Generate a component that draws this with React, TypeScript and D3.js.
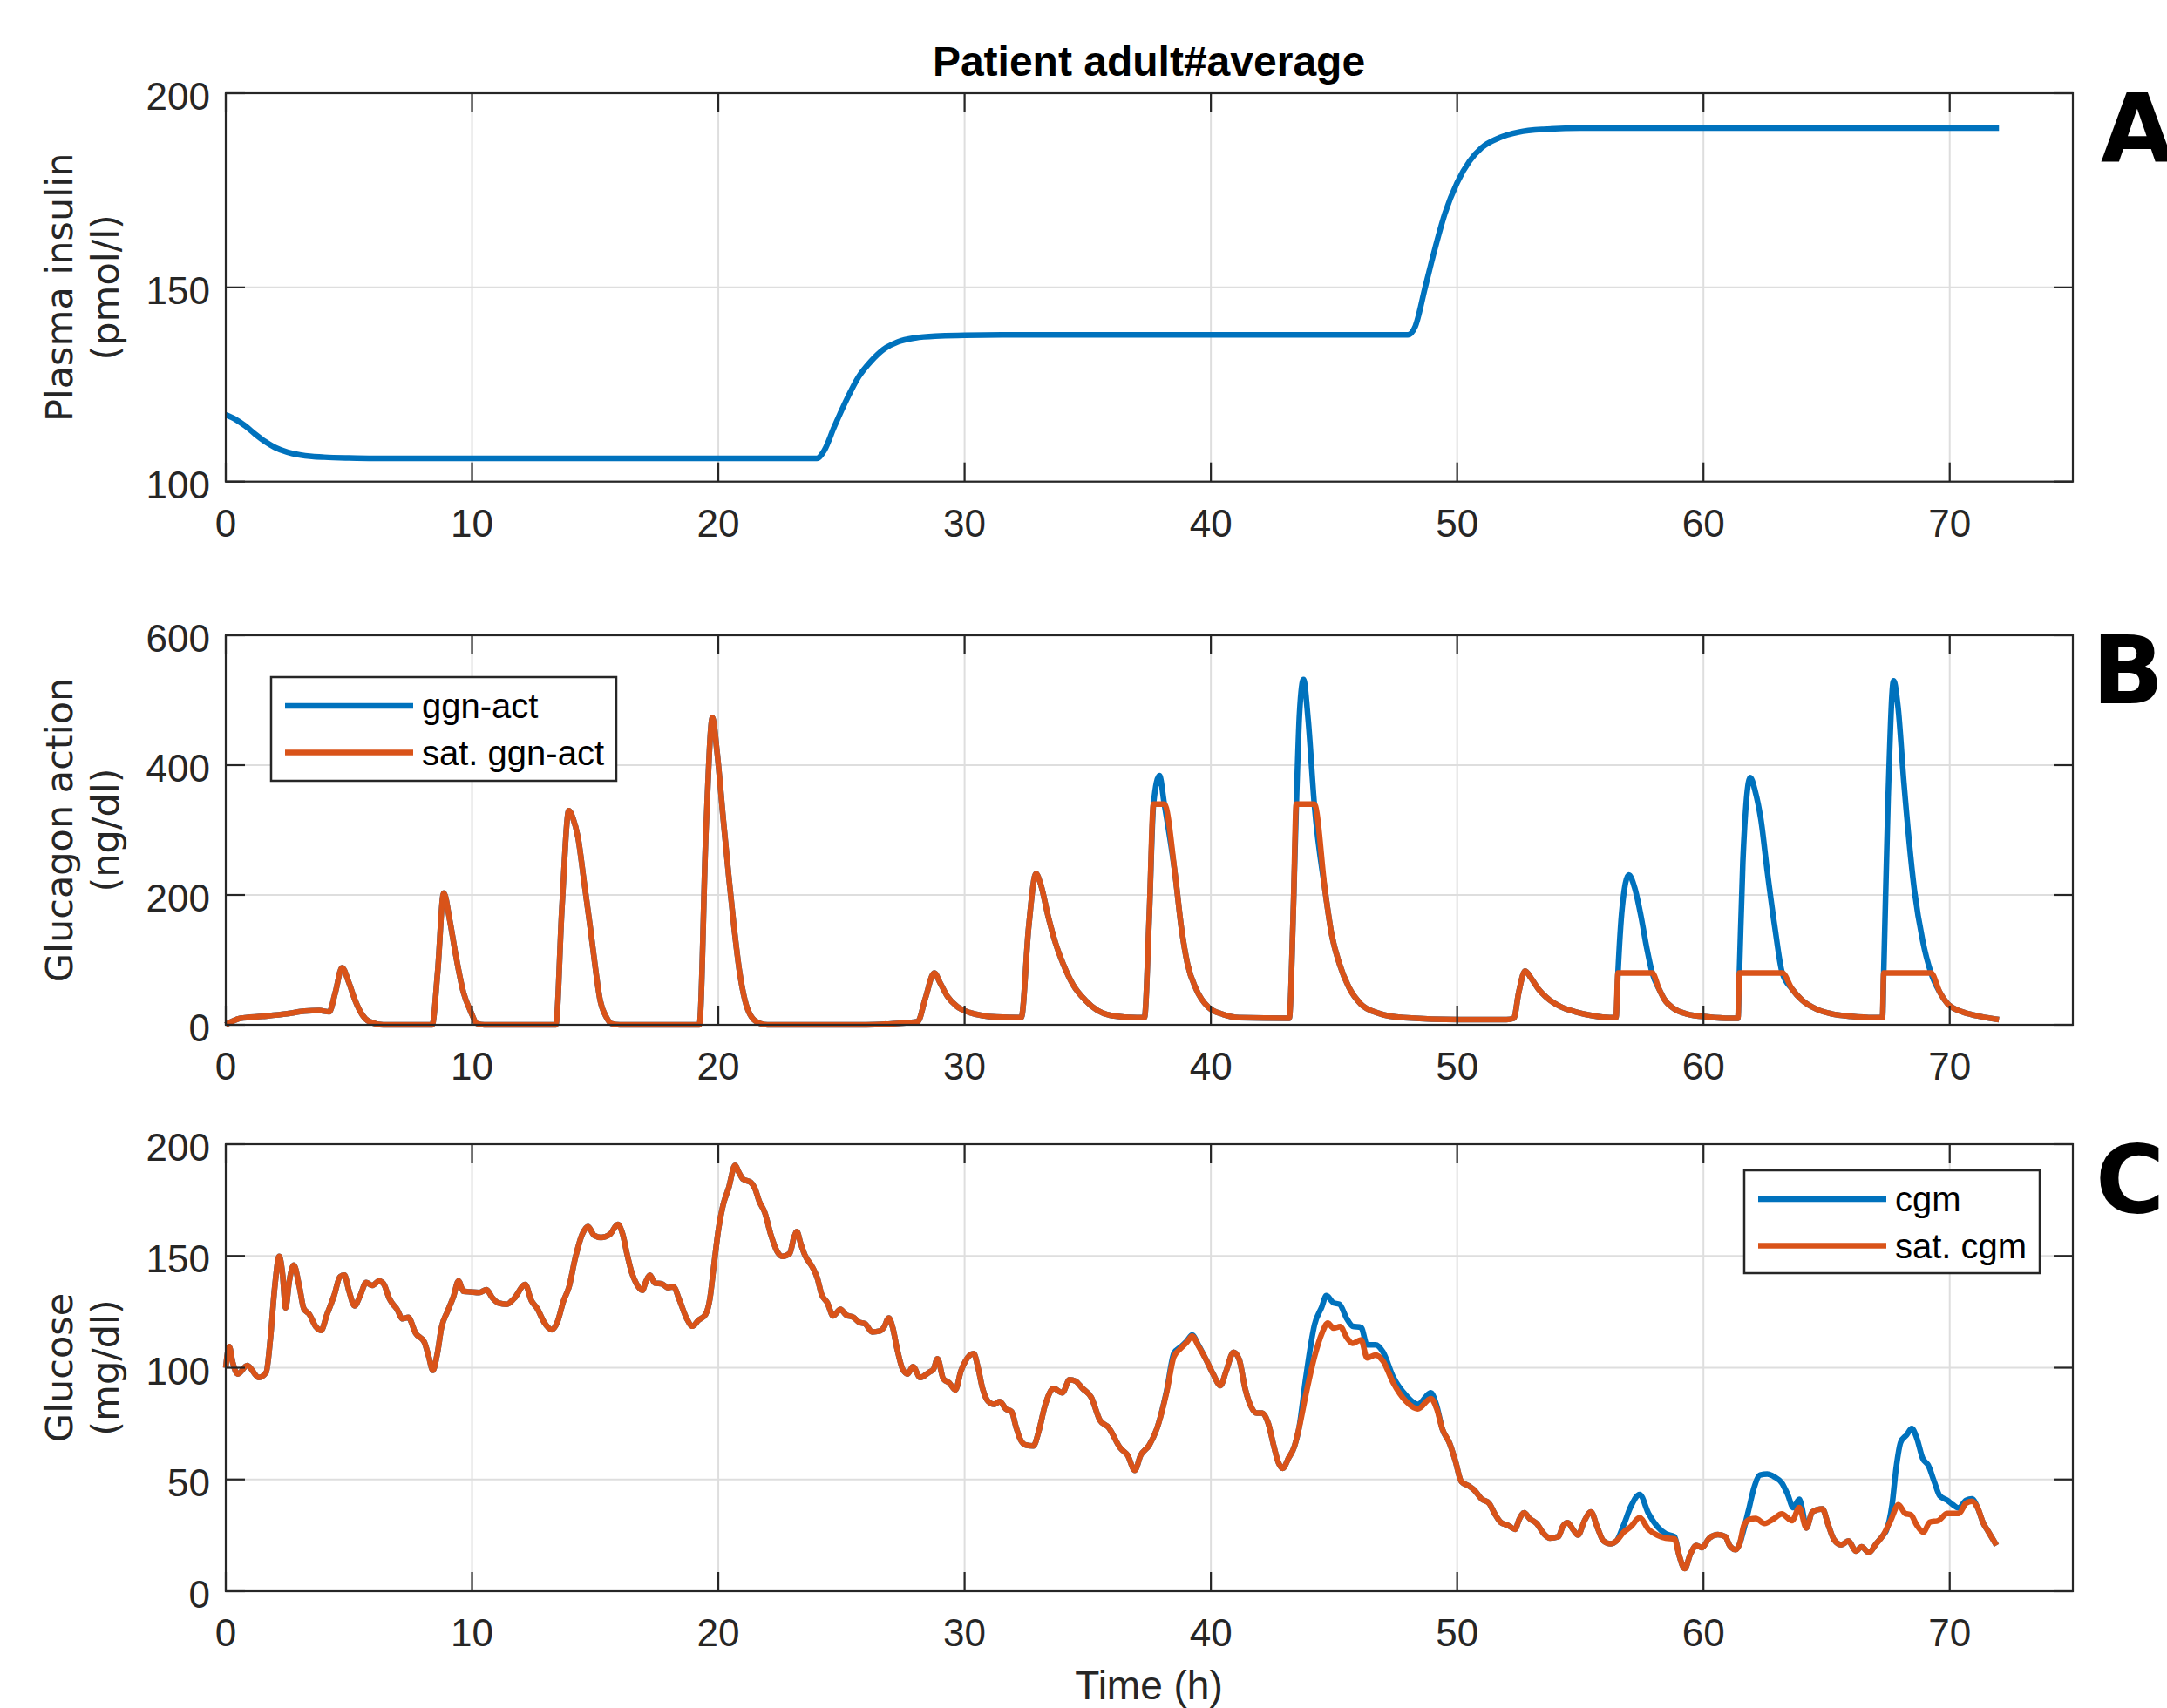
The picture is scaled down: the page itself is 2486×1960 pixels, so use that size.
import * as d3 from "d3";

// time axis ticks shared by all three panels
const X_TICKS = [0, 10, 20, 30, 40, 50, 60, 70];
const INSULIN_TICKS = [100, 150, 200];
const GLUCAGON_TICKS = [0, 200, 400, 600];
const GLUCOSE_TICKS = [0, 50, 100, 150, 200];

// [time (h), value] pairs
const insulin = [
  [0, 117.2], [0.4, 116], [0.8, 114.3], [1.2, 112.2], [1.6, 110.3], [2, 108.8], [2.5, 107.6], [3, 106.9],
  [3.5, 106.5], [4, 106.3], [5, 106.1], [6, 106], [24, 106], [24.3, 108], [24.7, 114], [25.2, 121],
  [25.7, 127], [26.2, 131], [26.7, 134], [27.3, 136], [28, 137], [29, 137.5], [30, 137.7], [32, 137.8],
  [48, 137.8], [48.3, 140], [48.7, 150], [49.1, 160], [49.5, 169], [50, 177], [50.5, 182.5], [51, 186],
  [51.7, 188.5], [52.5, 190], [53.5, 190.7], [55, 191], [72, 191],
];

const ggnAct = [
  [0, 0], [0.3, 6], [0.6, 10], [1.5, 13], [2.5, 17], [3.2, 21], [3.8, 22], [4.2, 20], [4.45, 50], [4.72, 88],
  [5, 65], [5.25, 38], [5.55, 15], [5.83, 5], [6.4, 0], [8.38, 0], [8.6, 80], [8.85, 203], [9.1, 160],
  [9.35, 105], [9.65, 50], [9.94, 21], [10.2, 2], [10.5, 0], [13.4, 0], [13.65, 180], [13.93, 330],
  [14.1, 318], [14.3, 289], [14.55, 220], [14.8, 150], [15, 90], [15.2, 38], [15.45, 12], [15.65, 2],
  [16, 0], [19.23, 0], [19.5, 300], [19.76, 473], [19.95, 420], [20.2, 317], [20.42, 230], [20.64, 150],
  [20.85, 85], [21.08, 38], [21.35, 12], [21.7, 2], [22, 0], [26, 0], [27, 1.5], [28.1, 5], [28.4, 40],
  [28.77, 80], [29, 65], [29.3, 44], [29.7, 28], [30.2, 19], [31.3, 12], [32.3, 11], [32.6, 150],
  [32.9, 233], [33.1, 215], [33.4, 166], [33.7, 125], [34, 94], [34.4, 62], [34.9, 38], [35.4, 22],
  [36, 14], [37, 11], [37.3, 11], [37.5, 170], [37.67, 340], [37.91, 384], [38.11, 340], [38.54, 234],
  [38.8, 150], [39.05, 94], [39.4, 55], [39.9, 27], [40.5, 16], [41.15, 11], [43.18, 10], [43.35, 180],
  [43.47, 340], [43.6, 480], [43.76, 532], [43.95, 470], [44.2, 340], [44.64, 206], [44.9, 140],
  [45.22, 94], [45.6, 58], [46.09, 32], [46.8, 18], [47.83, 11], [50.1, 8], [52, 8], [52.3, 10],
  [52.5, 50], [52.76, 83], [53, 72], [53.3, 55], [53.6, 43], [54.2, 28], [54.8, 20], [55.5, 14],
  [56.2, 11], [56.45, 11], [56.53, 80], [56.7, 180], [56.97, 231], [57.2, 212], [57.45, 170],
  [57.7, 118], [57.92, 80], [58.2, 55], [58.4, 40], [58.8, 25], [59.3, 17], [60.2, 12], [61.1, 10],
  [61.4, 10], [61.46, 80], [61.6, 250], [61.9, 381], [62.1, 360], [62.33, 317], [62.6, 234], [62.9, 150],
  [63.2, 80], [63.6, 55], [64, 38], [64.6, 24], [65.2, 17], [66, 13], [66.9, 11], [67.27, 11],
  [67.32, 80], [67.5, 350], [67.72, 530], [67.9, 490], [68.14, 373], [68.57, 206], [68.9, 130],
  [69.24, 80], [69.6, 50], [69.9, 33], [70.5, 20], [71.1, 14], [72, 8],
];

const satGgnAct = [
  [0, 0], [0.3, 6], [0.6, 10], [1.5, 13], [2.5, 17], [3.2, 21], [3.8, 22], [4.2, 20], [4.45, 50], [4.72, 88],
  [5, 65], [5.25, 38], [5.55, 15], [5.83, 5], [6.4, 0], [8.38, 0], [8.6, 80], [8.85, 203], [9.1, 160],
  [9.35, 105], [9.65, 50], [9.94, 21], [10.2, 2], [10.5, 0], [13.4, 0], [13.65, 180], [13.93, 330],
  [14.1, 318], [14.3, 289], [14.55, 220], [14.8, 150], [15, 90], [15.2, 38], [15.45, 12], [15.65, 2],
  [16, 0], [19.23, 0], [19.5, 300], [19.76, 473], [19.95, 420], [20.2, 317], [20.42, 230], [20.64, 150],
  [20.85, 85], [21.08, 38], [21.35, 12], [21.7, 2], [22, 0], [26, 0], [27, 1.5], [28.1, 5], [28.4, 40],
  [28.77, 80], [29, 65], [29.3, 44], [29.7, 28], [30.2, 19], [31.3, 12], [32.3, 11], [32.6, 150],
  [32.9, 233], [33.1, 215], [33.4, 166], [33.7, 125], [34, 94], [34.4, 62], [34.9, 38], [35.4, 22],
  [36, 14], [37, 11], [37.3, 11], [37.5, 170], [37.67, 340], [38.11, 340], [38.54, 234],
  [38.8, 150], [39.05, 94], [39.4, 55], [39.9, 27], [40.5, 16], [41.15, 11], [43.18, 10], [43.35, 180],
  [43.47, 340], [44.2, 340], [44.64, 206], [44.9, 140],
  [45.22, 94], [45.6, 58], [46.09, 32], [46.8, 18], [47.83, 11], [50.1, 8], [52, 8], [52.3, 10],
  [52.5, 50], [52.76, 83], [53, 72], [53.3, 55], [53.6, 43], [54.2, 28], [54.8, 20], [55.5, 14],
  [56.2, 11], [56.45, 11], [56.53, 80], [57.92, 80], [58.2, 55], [58.4, 40], [58.8, 25], [59.3, 17],
  [60.2, 12], [61.1, 10], [61.4, 10], [61.46, 80], [63.2, 80], [63.6, 55], [64, 38], [64.6, 24],
  [65.2, 17], [66, 13], [66.9, 11], [67.27, 11], [67.32, 80], [69.24, 80], [69.6, 50], [69.9, 33],
  [70.5, 20], [71.1, 14], [72, 8],
];

const satCgm = [
  [0, 100], [0.14, 109.5], [0.28, 102.4], [0.49, 97.2], [0.87, 101], [1.34, 95.6], [1.64, 97.9],
  [1.81, 112.8], [1.99, 136.2], [2.17, 149.8], [2.31, 141.4], [2.43, 126.8], [2.58, 138.8], [2.76, 145.9],
  [2.99, 136.2], [3.17, 126.4], [3.4, 123.8], [3.64, 118.6], [3.87, 116.7], [4.11, 123.8], [4.4, 132.3],
  [4.64, 140.7], [4.82, 141.4], [4.99, 134.9], [5.23, 127.7], [5.46, 132.3], [5.7, 138.1], [5.94, 136.8],
  [6.23, 138.8], [6.41, 137.5], [6.64, 131], [6.76, 128.8], [6.94, 126.4], [7.18, 121.9], [7.41, 122.5],
  [7.71, 115.4], [8.06, 111.5], [8.24, 105], [8.41, 98.8], [8.59, 106.3], [8.76, 118], [9, 125.1],
  [9.24, 131.6], [9.45, 138.8], [9.65, 134.2], [9.94, 133.9], [10.29, 133.6], [10.59, 134.9],
  [10.82, 131.3], [11.06, 129], [11.41, 128.4], [11.71, 131], [12.16, 137.2], [12.41, 130], [12.65, 126.4],
  [12.95, 119.9], [13.24, 117], [13.47, 120.6], [13.71, 129.7], [13.94, 136.2], [14.18, 148.5],
  [14.47, 159.6], [14.71, 163.2], [14.95, 159.3], [15.24, 158.3], [15.59, 159.6], [15.92, 164.1],
  [16.12, 159.6], [16.3, 150.5], [16.48, 142.7], [16.65, 138.1], [16.91, 134.6], [17.07, 138.8],
  [17.22, 141.4], [17.42, 137.9], [17.71, 137.5], [17.95, 135.8], [18.18, 136.2], [18.42, 130.3],
  [18.72, 121.9], [18.95, 118.6], [19.19, 121.2], [19.48, 123.8], [19.66, 131], [19.83, 146.6],
  [20.01, 162.2], [20.19, 172.6], [20.42, 180.4], [20.68, 190.5], [20.83, 187.5], [21.01, 184.3],
  [21.31, 183], [21.48, 180.4], [21.66, 174.5], [21.89, 169.3], [22.13, 159.6], [22.37, 152.4],
  [22.6, 149.8], [22.9, 151.1], [23.07, 158.3], [23.19, 160.9], [23.34, 155.7], [23.51, 150.5],
  [23.84, 144.6], [24.02, 140.1], [24.19, 132.9], [24.43, 129], [24.66, 123.2], [24.96, 126.1],
  [25.19, 123.6], [25.49, 122.5], [25.72, 120.3], [25.96, 119.6], [26.25, 116], [26.55, 116.4],
  [26.72, 118], [26.92, 122.2], [27.08, 118], [27.25, 108.9], [27.49, 99.2], [27.69, 97.2], [27.9, 100.5],
  [28.2, 95.6], [28.55, 97.9], [28.73, 99.2], [28.9, 104], [29.14, 94.9], [29.37, 93.3], [29.63, 90.1],
  [29.85, 98.5], [30.02, 102.7], [30.37, 106.3], [30.55, 99.8], [30.73, 90.7], [30.96, 84.9], [31.2, 83.6],
  [31.43, 84.9], [31.67, 81.6], [31.91, 80.3], [32.08, 73.8], [32.26, 68], [32.49, 65.4], [32.79, 65],
  [33.02, 71.9], [33.26, 82.9], [33.61, 90.7], [33.97, 88.8], [34.26, 94.6], [34.5, 94], [34.79, 90.7],
  [35.14, 86.8], [35.5, 76.4], [35.85, 73.2], [36.32, 64.1], [36.62, 60.8], [36.91, 54.1], [37.15, 60.8],
  [37.5, 65.4], [37.8, 72.5], [38.21, 89.4], [38.5, 105], [38.8, 108.9], [39.03, 111.5], [39.24, 114.1],
  [39.5, 109.6], [39.8, 103.7], [40.09, 97.2], [40.39, 92], [40.62, 98.5], [40.92, 106.9], [41.15, 103.7],
  [41.39, 90.7], [41.62, 82.9], [41.86, 79.7], [42.09, 79.7], [42.33, 75.1], [42.56, 64.7], [42.74, 57.6],
  [42.92, 55], [43.15, 59.5], [43.39, 64.7], [43.57, 72.5], [43.86, 88.1], [44.21, 105], [44.51, 115.4],
  [44.75, 120], [44.98, 117.7], [45.25, 118.4], [45.52, 113.4], [45.75, 110.9], [46.1, 112.5],
  [46.34, 104.4], [46.69, 105.7], [46.99, 103], [47.4, 93.3], [47.93, 84.9], [48.4, 81.6], [48.93, 86.2],
  [49.17, 81.6], [49.4, 72.5], [49.7, 66], [49.93, 58.2], [50.17, 49.1], [50.46, 47.2], [50.7, 45.2],
  [50.99, 41.3], [51.29, 39.4], [51.52, 34.8], [51.76, 30.9], [52.11, 29.2], [52.35, 27.7], [52.52, 32.2],
  [52.72, 35.1], [52.94, 32.5], [53.23, 30.3], [53.52, 25.7], [53.76, 23.8], [54.11, 24.4], [54.29, 29],
  [54.49, 30.7], [54.7, 27.7], [54.91, 25.1], [55.17, 31.6], [55.43, 35.5], [55.7, 28.3], [55.94, 22.5],
  [56.23, 21.2], [56.47, 22.5], [56.76, 26.4], [57.06, 29], [57.41, 32.9], [57.77, 27.7], [58.12, 25.1],
  [58.47, 23.8], [58.83, 23.4], [59, 16.6], [59.24, 10.1], [59.47, 16.6], [59.71, 20.5], [59.94, 19.5],
  [60.24, 23.8], [60.59, 25.3], [60.89, 24.4], [61.06, 20.5], [61.3, 18.6], [61.47, 21.2], [61.65, 29.6],
  [61.89, 32.2], [62.12, 32.6], [62.48, 30.3], [62.83, 32.2], [63.18, 34.6], [63.6, 31.6], [63.89, 37.4],
  [64.18, 28.3], [64.42, 35.5], [64.83, 36.8], [65.07, 29.6], [65.3, 23.1], [65.6, 20.8], [65.89, 22.5],
  [66.19, 17.9], [66.42, 19.9], [66.72, 17.3], [67.01, 21.2], [67.3, 25.1], [67.6, 31.6], [67.92, 38.7],
  [68.19, 34.8], [68.42, 34.2], [68.66, 29.6], [68.93, 26.4], [69.19, 30.9], [69.54, 31.6], [69.9, 34.8],
  [70.37, 34.8], [70.66, 39.4], [70.9, 40.3], [71.13, 37.4], [71.37, 30.3], [71.55, 27], [71.9, 20.5],
];

const cgm = [
  [0, 100], [0.14, 109.5], [0.28, 102.4], [0.49, 97.2], [0.87, 101], [1.34, 95.6], [1.64, 97.9],
  [1.81, 112.8], [1.99, 136.2], [2.17, 149.8], [2.31, 141.4], [2.43, 126.8], [2.58, 138.8], [2.76, 145.9],
  [2.99, 136.2], [3.17, 126.4], [3.4, 123.8], [3.64, 118.6], [3.87, 116.7], [4.11, 123.8], [4.4, 132.3],
  [4.64, 140.7], [4.82, 141.4], [4.99, 134.9], [5.23, 127.7], [5.46, 132.3], [5.7, 138.1], [5.94, 136.8],
  [6.23, 138.8], [6.41, 137.5], [6.64, 131], [6.76, 128.8], [6.94, 126.4], [7.18, 121.9], [7.41, 122.5],
  [7.71, 115.4], [8.06, 111.5], [8.24, 105], [8.41, 98.8], [8.59, 106.3], [8.76, 118], [9, 125.1],
  [9.24, 131.6], [9.45, 138.8], [9.65, 134.2], [9.94, 133.9], [10.29, 133.6], [10.59, 134.9],
  [10.82, 131.3], [11.06, 129], [11.41, 128.4], [11.71, 131], [12.16, 137.2], [12.41, 130], [12.65, 126.4],
  [12.95, 119.9], [13.24, 117], [13.47, 120.6], [13.71, 129.7], [13.94, 136.2], [14.18, 148.5],
  [14.47, 159.6], [14.71, 163.2], [14.95, 159.3], [15.24, 158.3], [15.59, 159.6], [15.92, 164.1],
  [16.12, 159.6], [16.3, 150.5], [16.48, 142.7], [16.65, 138.1], [16.91, 134.6], [17.07, 138.8],
  [17.22, 141.4], [17.42, 137.9], [17.71, 137.5], [17.95, 135.8], [18.18, 136.2], [18.42, 130.3],
  [18.72, 121.9], [18.95, 118.6], [19.19, 121.2], [19.48, 123.8], [19.66, 131], [19.83, 146.6],
  [20.01, 162.2], [20.19, 172.6], [20.42, 180.4], [20.68, 190.5], [20.83, 187.5], [21.01, 184.3],
  [21.31, 183], [21.48, 180.4], [21.66, 174.5], [21.89, 169.3], [22.13, 159.6], [22.37, 152.4],
  [22.6, 149.8], [22.9, 151.1], [23.07, 158.3], [23.19, 160.9], [23.34, 155.7], [23.51, 150.5],
  [23.84, 144.6], [24.02, 140.1], [24.19, 132.9], [24.43, 129], [24.66, 123.2], [24.96, 126.1],
  [25.19, 123.6], [25.49, 122.5], [25.72, 120.3], [25.96, 119.6], [26.25, 116], [26.55, 116.4],
  [26.72, 118], [26.92, 122.2], [27.08, 118], [27.25, 108.9], [27.49, 99.2], [27.69, 97.2], [27.9, 100.5],
  [28.2, 95.6], [28.55, 97.9], [28.73, 99.2], [28.9, 104], [29.14, 94.9], [29.37, 93.3], [29.63, 90.1],
  [29.85, 98.5], [30.02, 102.7], [30.37, 106.3], [30.55, 99.8], [30.73, 90.7], [30.96, 84.9], [31.2, 83.6],
  [31.43, 84.9], [31.67, 81.6], [31.91, 80.3], [32.08, 73.8], [32.26, 68], [32.49, 65.4], [32.79, 65],
  [33.02, 71.9], [33.26, 82.9], [33.61, 90.7], [33.97, 88.8], [34.26, 94.6], [34.5, 94], [34.79, 90.7],
  [35.14, 86.8], [35.5, 76.4], [35.85, 73.2], [36.32, 64.1], [36.62, 60.8], [36.91, 54.1], [37.15, 60.8],
  [37.5, 65.4], [37.8, 72.5], [38.21, 90], [38.5, 106.5], [38.8, 109.5], [39.03, 112], [39.24, 114.6],
  [39.5, 110], [39.8, 103.7], [40.09, 97.2], [40.39, 92], [40.62, 98.5], [40.92, 106.9], [41.15, 103.7],
  [41.39, 90.7], [41.62, 82.9], [41.86, 79.7], [42.09, 79.7], [42.33, 75.1], [42.56, 64.7], [42.74, 57.6],
  [42.92, 55], [43.15, 59.5], [43.39, 64.7], [43.57, 72.5], [43.86, 95.9], [44.21, 119.3], [44.5, 127.1],
  [44.69, 132.3], [44.98, 129], [45.22, 128.4], [45.52, 121.9], [45.75, 118.6], [46.1, 118],
  [46.34, 110.2], [46.69, 110.2], [46.99, 107], [47.4, 95.9], [47.93, 87.5], [48.4, 83.6], [48.93, 88.8],
  [49.17, 82.9], [49.4, 72.5], [49.7, 66], [49.93, 58.2], [50.17, 49.1], [50.46, 47.2], [50.7, 45.2],
  [50.99, 41.3], [51.29, 39.4], [51.52, 34.8], [51.76, 30.9], [52.11, 29.2], [52.35, 27.7], [52.52, 32.2],
  [52.72, 35.1], [52.94, 32.5], [53.23, 30.3], [53.52, 25.7], [53.76, 23.8], [54.11, 24.4], [54.29, 29],
  [54.49, 30.7], [54.7, 27.7], [54.91, 25.1], [55.17, 31.6], [55.43, 35.5], [55.7, 28.3], [55.94, 22.5],
  [56.23, 21.2], [56.47, 22.5], [56.76, 29.6], [57.06, 38.1], [57.41, 43.3], [57.77, 34.8], [58.12, 29],
  [58.47, 25.7], [58.83, 24.4], [59, 16.6], [59.24, 10.1], [59.47, 16.6], [59.71, 20.5], [59.94, 19.5],
  [60.24, 23.8], [60.59, 25.3], [60.89, 24.4], [61.06, 20.5], [61.3, 18.6], [61.47, 21.2], [61.59, 25.7],
  [61.83, 36.1], [62.06, 46.5], [62.3, 52], [62.59, 52.4], [62.89, 51.1], [63.18, 48.5], [63.42, 43.3],
  [63.65, 37.4], [63.89, 41.1], [64, 37.4], [64.18, 28.3], [64.42, 35.5], [64.83, 36.8], [65.07, 29.6],
  [65.3, 23.1], [65.6, 20.8], [65.89, 22.5], [66.19, 17.9], [66.42, 19.9], [66.72, 17.3], [67.01, 21.2],
  [67.3, 25.1], [67.42, 27], [67.66, 38.7], [67.83, 55.6], [68.01, 66.7], [68.25, 69.9], [68.46, 72.8],
  [68.66, 68.6], [68.9, 59.5], [69.13, 56.3], [69.37, 49.1], [69.6, 42.6], [69.9, 40.7], [70.13, 38.7],
  [70.37, 37.2], [70.66, 40.7], [70.9, 41.3], [71.13, 37.4], [71.37, 30.3], [71.55, 27], [71.9, 20.5],
];

const BLUE = "#0072BD";
const ORANGE = "#D95319";
const AXIS = "#262626";
const GRID = "#dedede";
const TICK_FONT = "'Liberation Sans', Arial, sans-serif";
const LABEL_FONT = "'DejaVu Sans', Verdana, sans-serif";

const LEFT = 259;
const RIGHT = 2378;
const TICK_LEN = 22;
const LINE_W = 6.5;

function Panel({ top, bottom, yDomain, yTicks, series, ylabel, letter, letterX, legend }) {
  const x = d3.scaleLinear().domain([0, 75]).range([LEFT, RIGHT]);
  const y = d3.scaleLinear().domain(yDomain).range([bottom, top]);
  const line = d3
    .line()
    .x((d) => x(d[0]))
    .y((d) => y(d[1]))
    .curve(d3.curveMonotoneX);
  const midY = (top + bottom) / 2;

  return (
    <g>
      {/* grid */}
      {X_TICKS.map((t) => (
        <line key={"gx" + t} x1={x(t)} x2={x(t)} y1={top} y2={bottom} stroke={GRID} strokeWidth={2} />
      ))}
      {yTicks.map((v) => (
        <line key={"gy" + v} x1={LEFT} x2={RIGHT} y1={y(v)} y2={y(v)} stroke={GRID} strokeWidth={2} />
      ))}

      {/* data */}
      {series.map((s, i) => (
        <path key={i} d={line(s.data)} fill="none" stroke={s.color} strokeWidth={LINE_W} strokeLinejoin="round" />
      ))}

      {/* box + inward ticks on all sides */}
      <rect x={LEFT} y={top} width={RIGHT - LEFT} height={bottom - top} fill="none" stroke={AXIS} strokeWidth={2.2} />
      {X_TICKS.map((t) => (
        <g key={"tx" + t}>
          <line x1={x(t)} x2={x(t)} y1={bottom} y2={bottom - TICK_LEN} stroke={AXIS} strokeWidth={2.2} />
          <line x1={x(t)} x2={x(t)} y1={top} y2={top + TICK_LEN} stroke={AXIS} strokeWidth={2.2} />
          <text x={x(t)} y={bottom + 63} textAnchor="middle" fontFamily={TICK_FONT} fontSize={44} fill={AXIS}>
            {t}
          </text>
        </g>
      ))}
      {yTicks.map((v) => (
        <g key={"ty" + v}>
          <line x1={LEFT} x2={LEFT + TICK_LEN} y1={y(v)} y2={y(v)} stroke={AXIS} strokeWidth={2.2} />
          <line x1={RIGHT} x2={RIGHT - TICK_LEN} y1={y(v)} y2={y(v)} stroke={AXIS} strokeWidth={2.2} />
          <text x={LEFT - 18} y={y(v) + 19} textAnchor="end" fontFamily={TICK_FONT} fontSize={44} fill={AXIS}>
            {v}
          </text>
        </g>
      ))}

      {/* y label, two lines */}
      <text transform={`translate(83, ${midY}) rotate(-90)`} textAnchor="middle" fontFamily={LABEL_FONT} fontSize={43} fill={AXIS}>
        {ylabel[0]}
      </text>
      <text transform={`translate(136, ${midY}) rotate(-90)`} textAnchor="middle" fontFamily={LABEL_FONT} fontSize={43} fill={AXIS}>
        {ylabel[1]}
      </text>

      {legend && (
        <g>
          <rect x={legend.x} y={legend.y} width={legend.w} height={legend.h} fill="white" stroke={AXIS} strokeWidth={2.5} />
          {legend.items.map((it, i) => {
            const cy = legend.y + 33 + i * 53.5;
            return (
              <g key={it.label}>
                <line x1={legend.x + 16} x2={legend.x + 163} y1={cy} y2={cy} stroke={it.color} strokeWidth={LINE_W} />
                <text x={legend.x + 173} y={cy + 14} fontFamily={TICK_FONT} fontSize={40} fill="black">
                  {it.label}
                </text>
              </g>
            );
          })}
        </g>
      )}

      <text x={letterX} y={top + 78} fontFamily="'DejaVu Sans', sans-serif" fontWeight="bold" fontSize={108} fill="black">
        {letter}
      </text>
    </g>
  );
}

export default function App() {
  return (
    <svg width={2486} height={1960} style={{ position: "absolute", left: 0, top: 0, background: "white" }}>
      <rect width={2486} height={1960} fill="white" />
      <text x={1318} y={87} textAnchor="middle" fontFamily={TICK_FONT} fontWeight="bold" fontSize={48} fill="black">
        Patient adult#average
      </text>

      <Panel
        top={107}
        bottom={552.7}
        yDomain={[100, 200]}
        yTicks={INSULIN_TICKS}
        series={[{ data: insulin, color: BLUE }]}
        ylabel={["Plasma insulin", "(pmol/l)"]}
        letter="A"
        letterX={2410}
      />
      <Panel
        top={729}
        bottom={1176}
        yDomain={[0, 600]}
        yTicks={GLUCAGON_TICKS}
        series={[
          { data: ggnAct, color: BLUE },
          { data: satGgnAct, color: ORANGE },
        ]}
        ylabel={["Glucagon action", "(ng/dl)"]}
        letter="B"
        letterX={2400}
        legend={{
          x: 311,
          y: 777,
          w: 396,
          h: 119,
          items: [
            { label: "ggn-act", color: BLUE },
            { label: "sat. ggn-act", color: ORANGE },
          ],
        }}
      />
      <Panel
        top={1313}
        bottom={1826}
        yDomain={[0, 200]}
        yTicks={GLUCOSE_TICKS}
        series={[
          { data: cgm, color: BLUE },
          { data: satCgm, color: ORANGE },
        ]}
        ylabel={["Glucose", "(mg/dl)"]}
        letter="C"
        letterX={2404}
        legend={{
          x: 2001,
          y: 1343,
          w: 339,
          h: 118,
          items: [
            { label: "cgm", color: BLUE },
            { label: "sat. cgm", color: ORANGE },
          ],
        }}
      />

      <text x={1318} y={1950} textAnchor="middle" fontFamily={TICK_FONT} fontSize={46} fill={AXIS}>
        Time (h)
      </text>
    </svg>
  );
}
